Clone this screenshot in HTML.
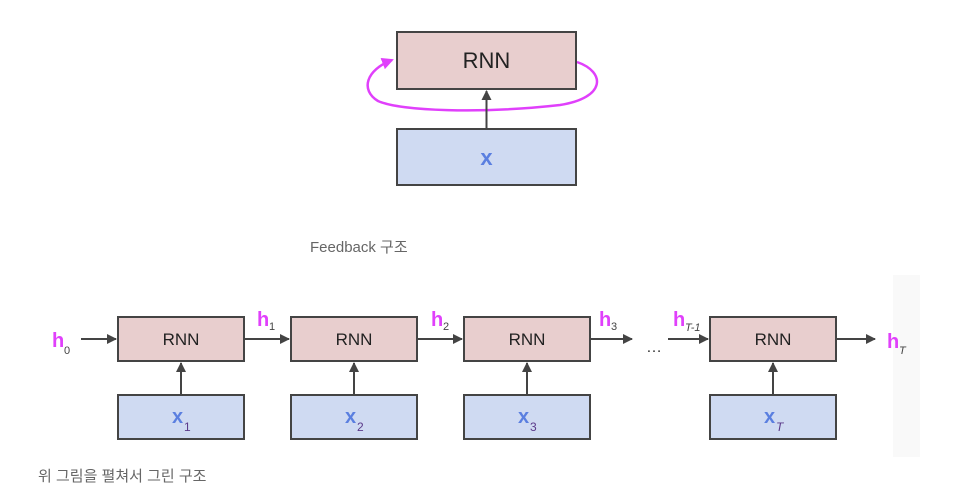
<!DOCTYPE html>
<html><head><meta charset="utf-8"><style>
html,body{margin:0;padding:0;background:#fff;}
body{width:972px;height:493px;position:relative;overflow:hidden;font-family:"Liberation Sans","Noto Sans CJK KR",sans-serif;}
.cap{position:absolute;color:#666;font-size:15px;}
</style></head><body>
<div style="position:absolute;left:893px;top:275px;width:27px;height:182px;background:#f9f9f9"></div>
<svg width="972" height="493" style="position:absolute;left:0;top:0" font-family="Liberation Sans, Arial, sans-serif">
<defs>
<marker id="a" markerWidth="10" markerHeight="10" refX="9" refY="5" orient="auto" markerUnits="userSpaceOnUse"><path d="M0,0 L10,5 L0,10 z" fill="#444"/></marker>
<marker id="m" markerWidth="12" markerHeight="12" refX="10" refY="6" orient="auto" markerUnits="userSpaceOnUse"><path d="M0,0 L12,6 L0,12 z" fill="#e040fb"/></marker>
</defs>
<!-- top -->
<path d="M577,62 C606,72 606,98 560,105 C480,114 400,111 378,101 C360,90 366,70 392,60" fill="none" stroke="#e040fb" stroke-width="2.5" marker-end="url(#m)"/>
<rect x="397" y="32" width="179" height="57" fill="#e8cece" stroke="#444" stroke-width="2"/>
<text x="486.5" y="68" font-size="22" text-anchor="middle" fill="#222">RNN</text>
<rect x="397" y="129" width="179" height="56" fill="#cfdaf2" stroke="#444" stroke-width="2"/>
<text x="486.5" y="165" font-size="22" font-weight="bold" text-anchor="middle" fill="#5b7fe0">x</text>
<line x1="486.5" y1="129" x2="486.5" y2="91" stroke="#444" stroke-width="2" marker-end="url(#a)"/>
<!-- bottom -->
<g stroke="#444" stroke-width="2">
<rect x="118" y="317" width="126" height="44" fill="#e8cece"/>
<rect x="291" y="317" width="126" height="44" fill="#e8cece"/>
<rect x="464" y="317" width="126" height="44" fill="#e8cece"/>
<rect x="710" y="317" width="126" height="44" fill="#e8cece"/>
<rect x="118" y="395" width="126" height="44" fill="#cfdaf2"/>
<rect x="291" y="395" width="126" height="44" fill="#cfdaf2"/>
<rect x="464" y="395" width="126" height="44" fill="#cfdaf2"/>
<rect x="710" y="395" width="126" height="44" fill="#cfdaf2"/>
<line x1="181" y1="395" x2="181" y2="363" marker-end="url(#a)"/>
<line x1="354" y1="395" x2="354" y2="363" marker-end="url(#a)"/>
<line x1="527" y1="395" x2="527" y2="363" marker-end="url(#a)"/>
<line x1="773" y1="395" x2="773" y2="363" marker-end="url(#a)"/>
<line x1="81" y1="339" x2="116" y2="339" marker-end="url(#a)"/>
<line x1="245" y1="339" x2="289" y2="339" marker-end="url(#a)"/>
<line x1="418" y1="339" x2="462" y2="339" marker-end="url(#a)"/>
<line x1="591" y1="339" x2="632" y2="339" marker-end="url(#a)"/>
<line x1="668" y1="339" x2="708" y2="339" marker-end="url(#a)"/>
<line x1="837" y1="339" x2="875" y2="339" marker-end="url(#a)"/>
</g>
<g font-size="17" text-anchor="middle" fill="#222">
<text x="181" y="345">RNN</text><text x="354" y="345">RNN</text><text x="527" y="345">RNN</text><text x="773" y="345">RNN</text>
</g>
<text x="646" y="352" font-size="16" fill="#333">…</text>
<g font-weight="bold" font-size="20" fill="#5b7fe0">
<text x="172" y="423">x</text><text x="345" y="423">x</text><text x="518" y="423">x</text><text x="764" y="423">x</text>
</g>
<g font-size="12" fill="#5b3a8a">
<text x="184" y="431">1</text><text x="357" y="431">2</text><text x="530" y="431">3</text><text x="776" y="431" font-style="italic">T</text>
</g>
<g font-weight="bold" font-size="20" fill="#e040fb">
<text x="52" y="347">h</text><text x="257" y="326">h</text><text x="431" y="326">h</text><text x="599" y="326">h</text><text x="673" y="326">h</text><text x="887" y="348">h</text>
</g>
<g font-size="11" fill="#444">
<text x="64" y="354">0</text><text x="269" y="330">1</text><text x="443" y="330">2</text><text x="611" y="330">3</text><text x="685" y="331" font-style="italic">T-1</text><text x="899" y="354" font-style="italic">T</text>
</g>
</svg>
<div class="cap" style="left:310px;top:236px;">Feedback 구조</div>
<div class="cap" style="left:38px;top:465px;">위 그림을 펼쳐서 그린 구조</div>
</body></html>
